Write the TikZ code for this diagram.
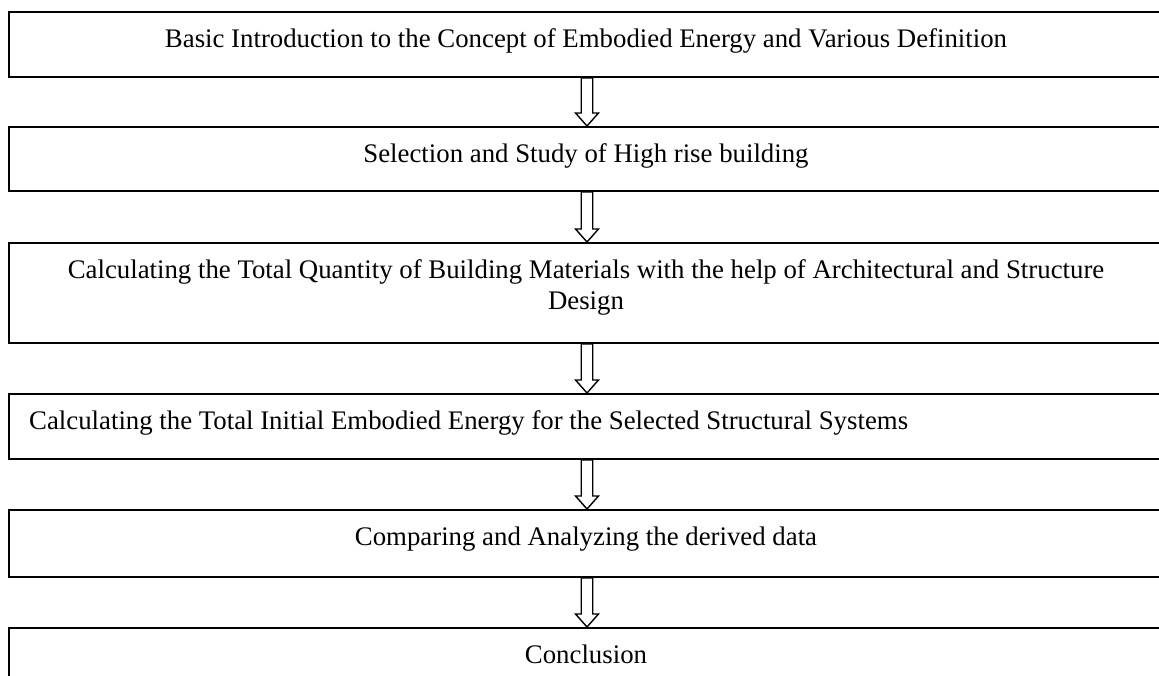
\documentclass[tikz,border=0pt]{standalone}
\usepackage{fontspec}
\setmainfont{Liberation Serif}
\usetikzlibrary{calc}
\tikzset{
  stepbox/.style={draw=black, line width=2pt, minimum width=1156pt, inner sep=0pt, anchor=north west},
  label/.style={anchor=base, inner sep=0pt, font=\fontsize{26.8}{31}\selectfont},
  arr/.style={draw=black, fill=white, line width=1.4pt, line join=miter}
}
\newcommand\blockarrow[2]{%
  \draw[arr] let \p1=(#1.south), \p2=(#2.north) in
    (\x1-5.75pt,\y1) -- (\x1-5.75pt,\y2+13pt) -- (\x1-11.5pt,\y2+13pt) -- (\x1,\y2)
    -- (\x1+11.5pt,\y2+13pt) -- (\x1+5.75pt,\y2+13pt) -- (\x1+5.75pt,\y1) -- cycle;}
\begin{document}
\begin{tikzpicture}[x=1pt,y=-1pt]
\useasboundingbox (0,0) rectangle (1159,675);
\clip (0,0) rectangle (1159,675);
\fill[white] (0,0) rectangle (1159,675);
\node[stepbox, minimum height=65pt] (b1) at (8,11) {};
\node[stepbox, minimum height=64pt] (b2) at (8,126) {};
\node[stepbox, minimum height=100pt] (b3) at (8,242) {};
\node[stepbox, minimum height=65pt] (b4) at (8,393) {};
\node[stepbox, minimum height=67pt] (b5) at (8,509) {};
\node[stepbox, minimum height=80pt] (b6) at (8,627) {};
\node[label] (t1) at (586,47) {Basic Introduction to the Concept of Embodied Energy and Various Definition};
\node[label] (t2) at (586,162) {Selection and Study of High rise building};
\node[label, align=center] (t3) at (586,309) {Calculating the Total Quantity of Building Materials with the help of Architectural and Structure\\Design};
\node[label, anchor=base west] (t4) at (29,429) {Calculating the Total Initial Embodied Energy for the Selected Structural Systems};
\node[label] (t5) at (586,545) {Comparing and Analyzing the derived data};
\node[label] (t6) at (586,663) {Conclusion};
\blockarrow{b1}{b2}
\blockarrow{b2}{b3}
\blockarrow{b3}{b4}
\blockarrow{b4}{b5}
\blockarrow{b5}{b6}
\end{tikzpicture}
\end{document}
